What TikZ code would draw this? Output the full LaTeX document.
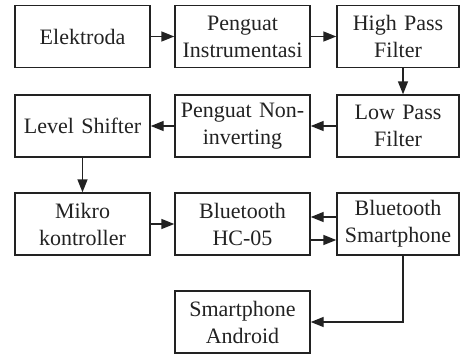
\documentclass[tikz,border=0pt]{standalone}
\usepackage{fontspec}
\setmainfont{Liberation Serif}
\usetikzlibrary{arrows.meta}
\definecolor{ink}{HTML}{222222}
\begin{document}
\begin{tikzpicture}[x=1pt,y=-1pt,
  block/.style={draw=ink,line width=1.4pt,rectangle,minimum height=62pt,
    align=center,inner sep=0pt,text=ink,
    font=\fontsize{22}{27}\selectfont},
  wideblock/.style={block,minimum width=135pt,text width=135pt},
  narrowblock/.style={block,minimum width=122pt,text width=122pt},
  link/.style={draw=ink,line width=1.4pt,-{Triangle[length=13pt,width=10pt]}}]
  \useasboundingbox (0,0) rectangle (460,356);
  % first row
  \node[wideblock]   (elek) at (82.5,36.5)  {Elektroda};
  \node[wideblock]   (inst) at (242.5,36.5) {Penguat\\Instrumentasi};
  \node[narrowblock] (hpf)  at (398,36.5)   {High Pass\\Filter};
  % second row
  \node[wideblock]   (lvl)  at (82.5,126)   {Level Shifter};
  \node[wideblock]   (noninv) at (242.5,126) {Penguat Non-\\inverting};
  \node[narrowblock] (lpf)  at (398,126)    {Low Pass\\Filter};
  % third row
  \node[wideblock]   (mcu)  at (82.5,224)   {Mikro\\kontroller};
  \node[wideblock]   (hc)   at (242.5,224)  {Bluetooth\\HC-05};
  \node[narrowblock] (bts)  at (398,224)    {Bluetooth\\Smartphone};
  % fourth row
  \node[wideblock]   (andr) at (242.5,322)  {Smartphone\\Android};
  % signal chain
  \draw[link] (elek) -- (inst);
  \draw[link] (inst) -- (hpf);
  \draw[link] ([xshift=5pt]hpf.south) -- ([xshift=5pt]lpf.north);
  \draw[link] (lpf) -- (noninv);
  \draw[link] (noninv) -- (lvl);
  \draw[link] (lvl) -- (mcu);
  \draw[link] (mcu) -- (hc);
  % two-way radio link (canvas y points up, so a positive shift moves up)
  \draw[link] ([yshift=7pt]bts.west) -- ([yshift=7pt]hc.east);
  \draw[link] ([yshift=-16pt]hc.east) -- ([yshift=-16pt]bts.west);
  \draw[link] ([xshift=5pt]bts.south) |- (andr.east);
\end{tikzpicture}
\end{document}
